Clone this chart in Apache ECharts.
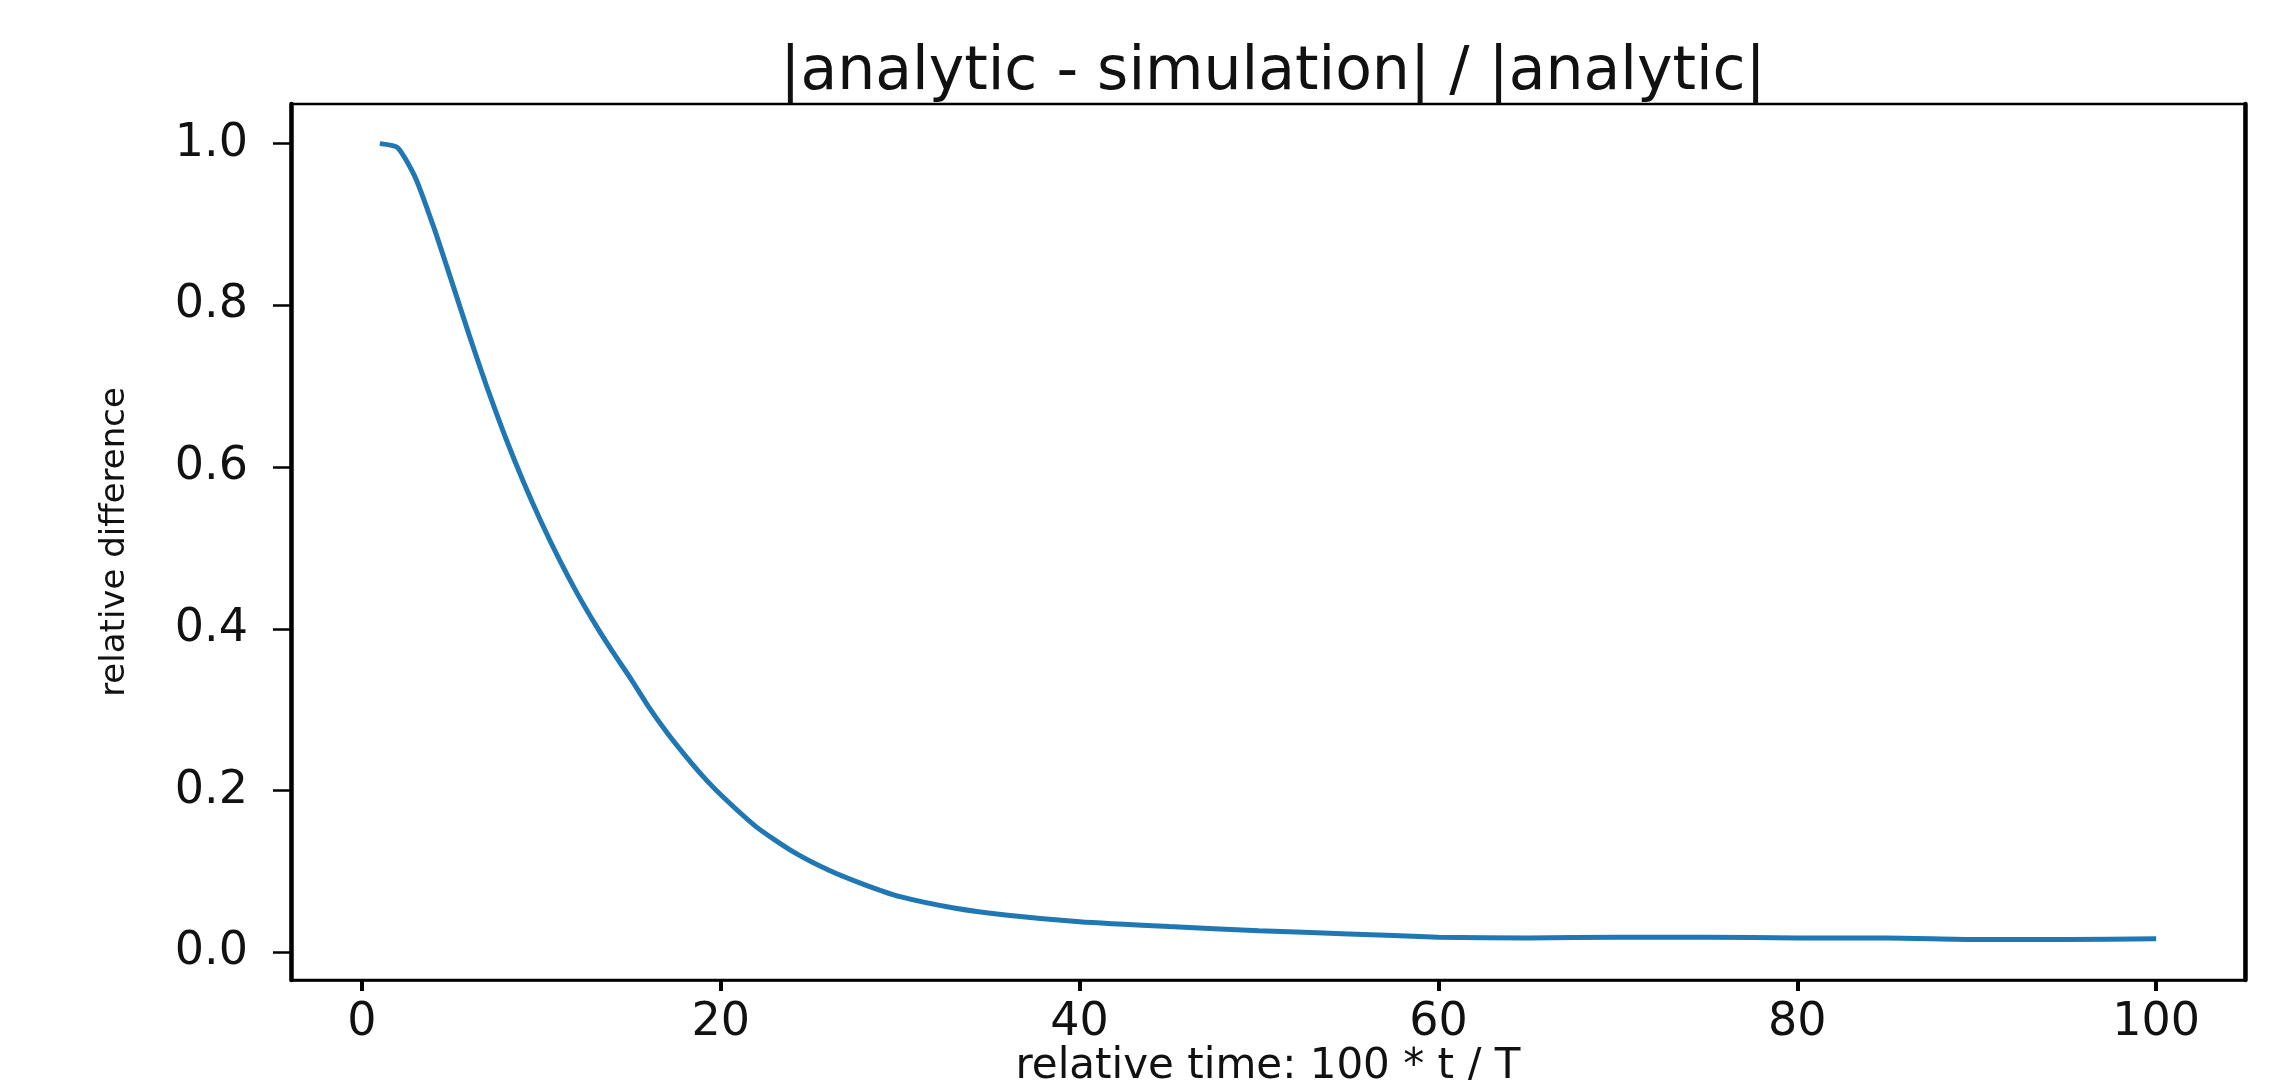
<!DOCTYPE html>
<html>
<head>
<meta charset="utf-8">
<script src="https://cdn.jsdelivr.net/npm/echarts@6/dist/echarts.min.js"></script>
<style>
  html, body { margin: 0; padding: 0; background: #fff; }
  #relDiffChart { width: 2283px; height: 1080px; }
</style>
</head>
<body>
<div id="relDiffChart"></div>
<script>
  // values
  var relTime = [1, 2, 3, 4, 5, 6, 7, 8, 9, 10, 11, 12, 13, 14, 15, 16, 17, 18, 19, 20,
    22, 24, 26, 28, 30, 33, 36, 40, 45, 50, 55, 60, 65, 70, 75, 80, 85, 90, 95, 100];
  var relDiff = [1.000, 0.995, 0.957, 0.897, 0.830, 0.762, 0.697, 0.637, 0.582, 0.532,
    0.486, 0.444, 0.406, 0.371, 0.338, 0.303, 0.272, 0.244, 0.218, 0.195,
    0.155, 0.125, 0.102, 0.084, 0.069, 0.055, 0.046, 0.038, 0.032, 0.027,
    0.023, 0.019, 0.018, 0.019, 0.019, 0.018, 0.018, 0.016, 0.016, 0.017];
  var xTicks = [0, 20, 40, 60, 80, 100];
  var yTicks = [0.0, 0.2, 0.4, 0.6, 0.8, 1.0];

  var points = [];
  for (var i = 0; i < relTime.length; i++) {
    points.push([relTime[i], relDiff[i]]);
  }

  var myChart = echarts.init(document.getElementById('relDiffChart'));
  var textFont = 'DejaVu Sans';
  var option = {
    backgroundColor: '#fff',
    animation: false,
    title: {
      text: '|analytic - simulation| / |analytic|',
      left: 1268,
      top: 68,
      textAlign: 'center',
      textVerticalAlign: 'middle',
      textStyle: { fontFamily: textFont, fontSize: 60, fontWeight: 'normal', color: '#111' }
    },
    grid: {
      left: 291,
      right: 38,
      top: 104,
      bottom: 100,
      containLabel: false,
      outerBoundsMode: 'none',
      show: true,
      borderColor: '#000',
      borderWidth: 2.5,
      backgroundColor: '#fff'
    },
    xAxis: {
      type: 'value',
      min: -3.95,
      max: 104.95,
      name: 'relative time: 100 * t / T',
      nameLocation: 'middle',
      nameGap: 66,
      nameMoveOverlap: false,
      nameTextStyle: { fontFamily: textFont, fontSize: 42, color: '#111' },
      splitLine: { show: false },
      axisLine: { show: true, onZero: false, lineStyle: { color: '#000', width: 2.5 } },
      axisTick: { show: true, inside: false, length: 11, customValues: xTicks, lineStyle: { color: '#000', width: 4 } },
      axisLabel: {
        customValues: xTicks,
        margin: 20,
        fontFamily: textFont,
        fontSize: 46,
        color: '#111'
      }
    },
    yAxis: [
      {
        type: 'value',
        min: -0.034,
        max: 1.049,
        name: 'relative difference',
        nameLocation: 'middle',
        nameGap: 159,
        nameMoveOverlap: false,
        nameTextStyle: { fontFamily: textFont, fontSize: 34, color: '#111' },
        splitLine: { show: false },
        axisLine: { show: true, onZero: false, lineStyle: { color: '#000', width: 4.5 } },
        axisTick: { show: true, inside: false, length: 18, customValues: yTicks, lineStyle: { color: '#000', width: 2.5 } },
        axisLabel: {
          customValues: yTicks,
          margin: 43,
          fontFamily: textFont,
          fontSize: 46,
          color: '#111',
          formatter: function (v) { return v.toFixed(1); }
        }
      },
      {
        // right spine only
        type: 'value',
        position: 'right',
        min: -0.034,
        max: 1.049,
        splitLine: { show: false },
        axisLine: { show: true, onZero: false, lineStyle: { color: '#000', width: 4.5 } },
        axisTick: { show: false },
        axisLabel: { show: false }
      }
    ],
    series: [
      {
        name: 'relative difference',
        type: 'line',
        yAxisIndex: 0,
        showSymbol: false,
        symbol: 'none',
        smooth: 0.2,
        lineStyle: { color: '#1f77b4', width: 5 },
        itemStyle: { color: '#1f77b4' },
        data: points
      }
    ]
  };
  myChart.setOption(option);
</script>
</body>
</html>
